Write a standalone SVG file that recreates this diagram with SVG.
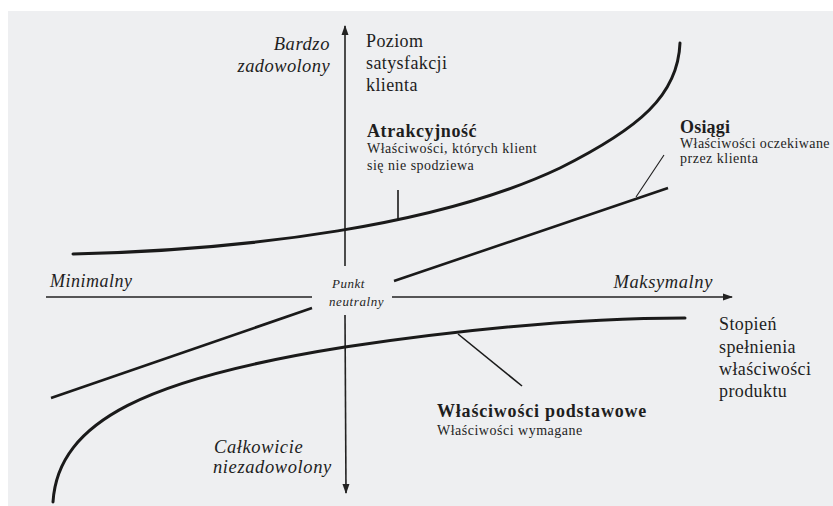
<svg xmlns="http://www.w3.org/2000/svg" width="833" height="506" viewBox="0 0 833 506">
<style>
.t{font-family:"Liberation Serif","DejaVu Serif",serif;fill:#1e1e1e}
.it{font-style:italic}
.b{font-weight:bold;font-size:18px;letter-spacing:0.6px}
.s{font-size:14px;letter-spacing:0.5px}
.l{font-size:18px;letter-spacing:0.4px}
.il{font-size:18.5px;letter-spacing:0.6px;font-style:italic}
.ax{stroke:#222;stroke-width:1.6;fill:none}
.cv{stroke:#1a1a1a;stroke-width:3;fill:none;stroke-linecap:round}
.ln{stroke:#1a1a1a;stroke-width:2.6;fill:none}
.ld{stroke:#1a1a1a;stroke-width:1.6;fill:none}
</style>
<defs>
<marker id="ah" viewBox="0 0 10 10" refX="9" refY="5" markerWidth="10" markerHeight="10" markerUnits="userSpaceOnUse" orient="auto">
<path d="M0,1.5 L10,5 L0,8.5 Z" fill="#222"/>
</marker>
</defs>
<rect x="0" y="0" width="833" height="506" fill="#ffffff"/>
<rect x="8" y="11" width="825" height="495" fill="#eeeff1"/>
<g id="connectors">
<line class="ax" x1="345" y1="266" x2="345" y2="26" marker-end="url(#ah)"/>
<line class="ax" x1="345" y1="315" x2="346" y2="493" marker-end="url(#ah)"/>
<line class="ax" x1="46" y1="297" x2="312" y2="297"/>
<line class="ax" x1="392" y1="297" x2="732" y2="297" marker-end="url(#ah)"/>
</g>
<g id="atrakcyjnosc">
<path class="cv" d="M73,254 C 250,250 440,225 560,168 C 640,128 678,95 680,43"/>
<line class="ld" x1="398" y1="190" x2="398" y2="221"/>
<text class="t b" x="367" y="137">Atrakcyjność</text>
<text class="t s" x="367" y="153">Właściwości, których klient</text>
<text class="t s" x="367" y="170">się nie spodziewa</text>
</g>
<g id="osiagi">
<line class="ln" x1="394" y1="281" x2="668" y2="188"/>
<line class="ln" x1="51" y1="398" x2="312" y2="308"/>
<line x1="636" y1="197" x2="664" y2="155" stroke="#1a1a1a" stroke-width="1.1"/>
<text class="t b" x="680" y="133" style="letter-spacing:0.2px">Osiągi</text>
<text class="t s" x="680" y="148" style="letter-spacing:0.4px">Właściwości oczekiwane</text>
<text class="t s" x="680" y="163">przez klienta</text>
</g>
<g id="podstawowe">
<path class="cv" d="M53,502 C 58,420 150,378 345,347 C 460,330 580,318 685,318"/>
<line class="ld" x1="458" y1="334" x2="522" y2="386"/>
<text class="t b" x="437" y="417" style="letter-spacing:0.8px">Właściwości podstawowe</text>
<text class="t s" x="437" y="435">Właściwości wymagane</text>
</g>
<g id="labels">
<text class="t it" x="330" y="50" font-size="18.5" text-anchor="end" letter-spacing="0.6">Bardzo</text>
<text class="t it" x="330" y="72" font-size="18.5" text-anchor="end" letter-spacing="0.4">zadowolony</text>
<text class="t l" x="366" y="47">Poziom</text>
<text class="t l" x="366" y="69">satysfakcji</text>
<text class="t l" x="366" y="91">klienta</text>
<text class="t il" x="50" y="287" style="font-size:18px;letter-spacing:0.5px">Minimalny</text>
<text class="t il" x="713" y="288" text-anchor="end">Maksymalny</text>
<text class="t it" x="332" y="288" font-size="13" letter-spacing="0.5">Punkt</text>
<text class="t it" x="329" y="306" font-size="13" letter-spacing="0.6">neutralny</text>
<text class="t l" x="719" y="330">Stopień</text>
<text class="t l" x="719" y="353">spełnienia</text>
<text class="t l" x="719" y="375">właściwości</text>
<text class="t l" x="719" y="397">produktu</text>
<text class="t il" x="214" y="453">Całkowicie</text>
<text class="t il" x="213" y="473">niezadowolony</text>
</g>
</svg>
